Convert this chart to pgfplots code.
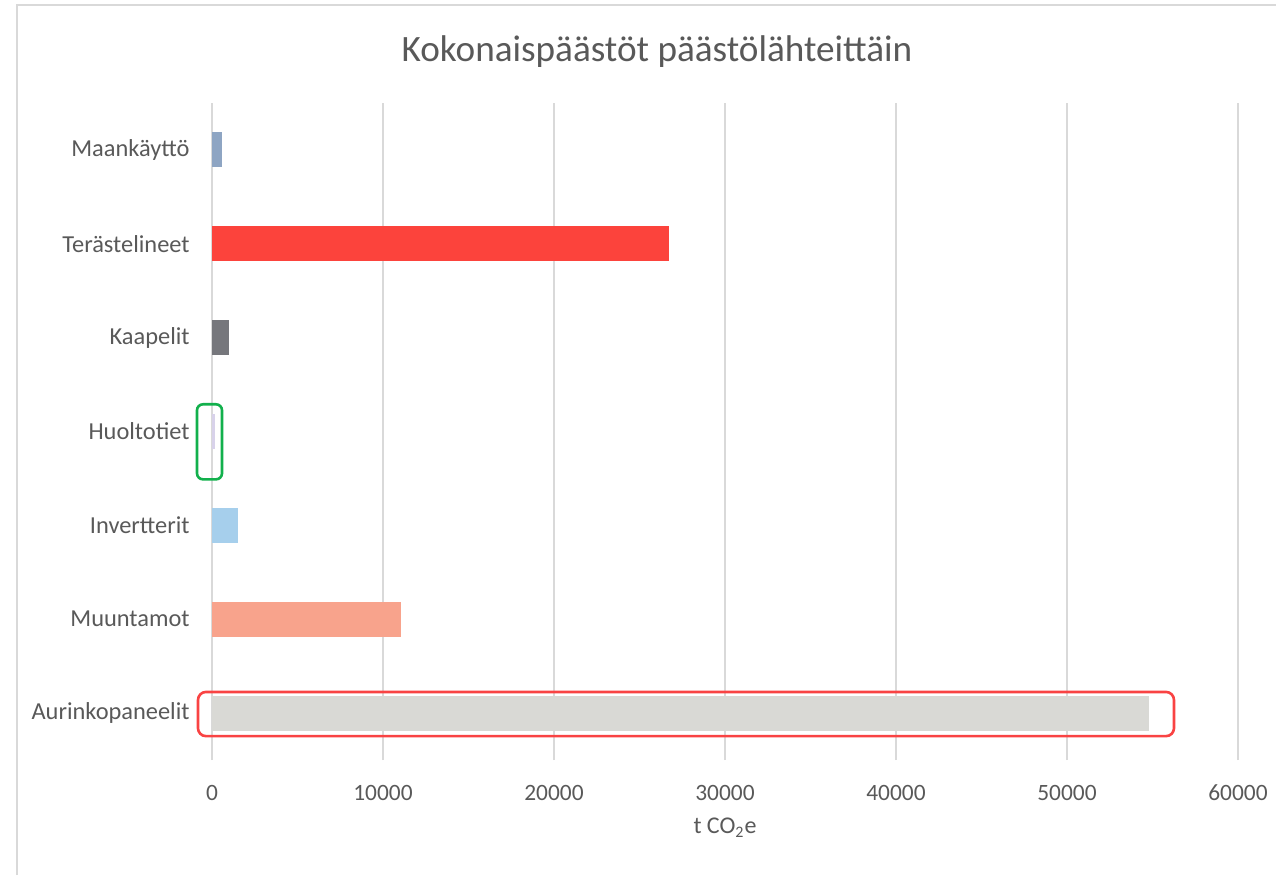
\documentclass[border=0pt]{standalone}
\usepackage{pgfplots}
\pgfplotsset{compat=1.18}
\usepackage{fontspec}
\setmainfont{Carlito}
\definecolor{txt}{HTML}{595959}
\definecolor{gridc}{HTML}{D9D9D9}
\definecolor{cMaa}{HTML}{8EA5C3}
\definecolor{cTer}{HTML}{FC433C}
\definecolor{cKaa}{HTML}{76777C}
\definecolor{cHuo}{HTML}{D8D2EA}
\definecolor{cInv}{HTML}{A6CFEC}
\definecolor{cMuu}{HTML}{F8A38C}
\definecolor{cAur}{HTML}{D9D9D5}
\definecolor{annG}{HTML}{12B04C}
\definecolor{annR}{HTML}{F94343}
\begin{document}
\begin{tikzpicture}
\useasboundingbox (0,0) rectangle (638pt,437.5pt);
\draw[gridc, line width=1pt] (8.25pt,0) -- (8.25pt,434.75pt) -- (638pt,434.75pt);
\node[txt, font=\fontsize{18.6}{22}\selectfont, anchor=center] at (328.5pt,411.5pt) {Kokonaispäästöt päästölähteittäin};
\begin{axis}[
  at={(106pt,57.5pt)}, anchor=south west,
  scale only axis, width=513pt, height=328.5pt,
  xbar, bar width=17.5pt, bar shift=0pt,
  xmin=0, xmax=60000, ymin=-0.5, ymax=6.5,
  xtick={0,10000,...,60000},
  ytick={0,1,2,3,4,5,6},
  yticklabels={Aurinkopaneelit,Muuntamot,Invertterit,Huoltotiet,Kaapelit,Terästelineet,Maankäyttö},
  scaled x ticks=false,
  /pgf/number format/assume math mode=true,
  /pgf/number format/set thousands separator={},
  xmajorgrids, major grid style={gridc, line width=0.9pt},
  axis line style={draw=none},
  major tick length=0pt,
  tick label style={txt, font=\fontsize{11.7}{14}\selectfont},
  yticklabel style={font=\fontsize{12.2}{14}\selectfont, anchor=east, xshift=-11pt, inner sep=0pt},
  xticklabel style={anchor=center, yshift=-16.5pt, inner sep=0pt},
  xlabel={t CO\textsubscript{2}e},
  xlabel style={txt, font=\fontsize{12}{14}\selectfont, at={(axis description cs:0.5,0)}, anchor=center, yshift=-34pt},
  clip=false,
]
\addplot[fill=cAur, draw=none] coordinates {(54800,0)};
\addplot[fill=cMuu, draw=none] coordinates {(11050,1)};
\addplot[fill=cInv, draw=none] coordinates {(1520,2)};
\addplot[fill=cHuo, draw=none] coordinates {(200,3)};
\addplot[fill=cKaa, draw=none] coordinates {(1000,4)};
\addplot[fill=cTer, draw=none] coordinates {(26700,5)};
\addplot[fill=cMaa, draw=none] coordinates {(600,6)};
\draw[annG, line width=1.3pt, rounded corners=3pt] (axis cs:-877,3.29) rectangle (axis cs:585,2.49);
\draw[annR, line width=1.3pt, rounded corners=4pt] (axis cs:-819,0.225) rectangle (axis cs:56257,-0.246);
\end{axis}
\end{tikzpicture}
\end{document}
